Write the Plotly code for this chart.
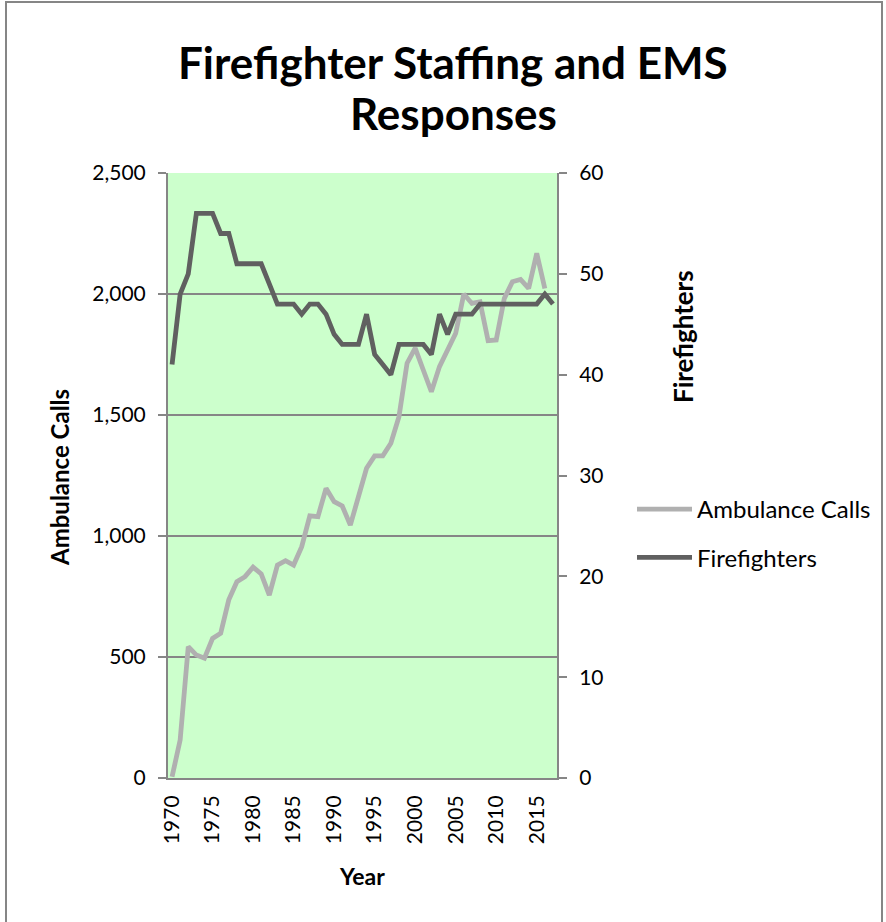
import plotly.graph_objects as go

years = [str(y) for y in range(1970, 2018)]
ambulance_calls = [5, 157, 543, 508, 495, 577, 598, 736, 811, 832, 871, 843, 756, 880, 898,
                   880, 956, 1083, 1080, 1197, 1142, 1124, 1045, 1162, 1280, 1331, 1331, 1383,
                   1493, 1714, 1776, 1686, 1596, 1700, 1769, 1838, 2000, 1961, 1968, 1807,
                   1810, 1982, 2051, 2060, 2023, 2168, 2023]
firefighters = [41, 48, 50, 56, 56, 56, 54, 54, 51, 51, 51, 51, 49, 47, 47, 47, 46, 47, 47,
                46, 44, 43, 43, 43, 46, 42, 41, 40, 43, 43, 43, 43, 42, 46, 44, 46, 46, 46,
                47, 47, 47, 47, 47, 47, 47, 47, 48, 47]
x_tick_labels = [str(y) for y in range(1970, 2016, 5)]
left_ticks = [0, 500, 1000, 1500, 2000, 2500]
right_ticks = [0, 10, 20, 30, 40, 50, 60]

FONT = "Lato"
W, H = 886, 922
L, R, T, B = 168, 329, 173, 144
pw, ph = W - L - R, H - T - B

def px(x):
    return (x - L) / pw

def py(y):
    return (H - B - y) / ph

fig = go.Figure()
fig.add_trace(go.Scatter(x=years[:len(ambulance_calls)], y=ambulance_calls, name="Ambulance Calls",
                         mode="lines", line=dict(color="#b0b0b0", width=4.8), yaxis="y",
                         legendgroup="a"))
fig.add_trace(go.Scatter(x=years, y=firefighters, name="Firefighters",
                         mode="lines", line=dict(color="#606060", width=4.8), yaxis="y2",
                         legendgroup="b"))

axis_line = "#868686"
fig.update_layout(
    width=W, height=H,
    margin=dict(l=L, r=R, t=T, b=B, autoexpand=False),
    paper_bgcolor="white",
    plot_bgcolor="#ccffcc",
    font=dict(family=FONT, size=21, color="black"),
    showlegend=True,
    legend=dict(x=px(632), y=py(487), xanchor="left", yanchor="top",
                font=dict(size=24), tracegroupgap=14, traceorder="grouped",
                itemwidth=55, bgcolor="rgba(0,0,0,0)"),
    xaxis=dict(type="category", categoryorder="array", categoryarray=years,
               tickmode="array", tickvals=x_tick_labels, ticktext=x_tick_labels,
               tickangle=-90, showgrid=False, showline=True, linecolor=axis_line, linewidth=2,
               ticks="", range=[-0.5, len(years) - 0.5], tickfont=dict(size=21),
               ticklabelstandoff=7),
    yaxis=dict(range=[0, 2500], tickvals=left_ticks, tickformat=",", showgrid=True,
               gridcolor=axis_line, gridwidth=2, showline=True, linecolor=axis_line, linewidth=2,
               ticks="outside", ticklen=8, tickcolor=axis_line, tickwidth=2,
               zeroline=False, tickfont=dict(size=21), ticklabelstandoff=8),
    yaxis2=dict(range=[0, 60], tickvals=right_ticks, overlaying="y", side="right",
                showgrid=False, showline=True, linecolor=axis_line, linewidth=2,
                ticks="outside", ticklen=8, tickcolor=axis_line, tickwidth=2,
                zeroline=False, tickfont=dict(size=21), ticklabelstandoff=8),
)

fig.add_annotation(text="<b>Firefighter Staffing and EMS</b>", xref="paper", yref="paper",
                   x=px(453), y=py(62), showarrow=False, font=dict(size=44, family=FONT),
                   xanchor="center", yanchor="middle")
fig.add_annotation(text="<b>Responses</b>", xref="paper", yref="paper",
                   x=px(453), y=py(113), showarrow=False, font=dict(size=44, family=FONT),
                   xanchor="center", yanchor="middle")
fig.add_annotation(text="<b>Ambulance Calls</b>", xref="paper", yref="paper", x=px(60), y=py(477),
                   textangle=-90, showarrow=False, font=dict(size=24), xanchor="center", yanchor="middle")
fig.add_annotation(text="<b>Firefighters</b>", xref="paper", yref="paper", x=px(683), y=py(337),
                   textangle=-90, showarrow=False, font=dict(size=26), xanchor="center", yanchor="middle")
fig.add_annotation(text="<b>Year</b>", xref="paper", yref="paper", x=px(362), y=py(876),
                   showarrow=False, font=dict(size=23), xanchor="center", yanchor="middle")

fig.add_shape(type="rect", xref="paper", yref="paper", x0=px(6), x1=px(882), y0=py(960), y1=py(2),
              line=dict(color="#868686", width=2), fillcolor="rgba(0,0,0,0)", layer="below")

fig.write_html("out.html")
